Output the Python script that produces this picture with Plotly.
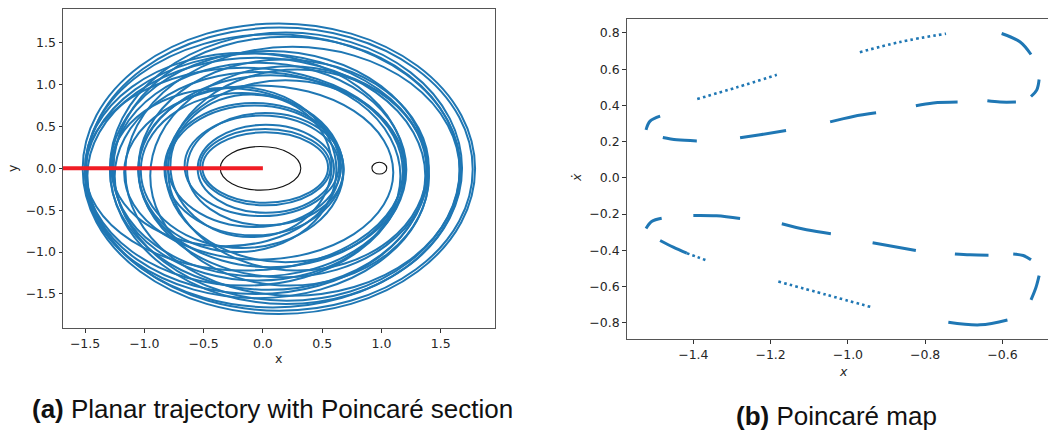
import plotly.graph_objects as go

W, H = 1048, 432
BLUE = "#1f77b4"
TICK_FONT = dict(family="DejaVu Sans", size=12.5, color="#262626")

# ---- panel (a): planar trajectory, one entry per orbital loop (bounding box in x, y)
loop_xmin = [-0.53, -0.51, -0.55, -0.66, -0.64, -0.80, -0.83, -0.78, -1.03, -1.05,
             -0.82, -1.05, -1.27, -1.25, -1.50, -1.17,
             -1.50, -1.48, -1.05, -0.80, -1.29,
             -1.52, -1.49, -1.29, -1.26, -1.16, -1.50,
             -1.28, -1.50, -0.95]
loop_xmax = [0.57, 0.55, 0.60, 0.64, 0.68, 0.66, 0.68, 0.58, 0.68, 0.62,
             1.20, 1.18, 1.21, 1.16, 1.20, 1.10,
             1.40, 1.37, 1.40, 1.38, 1.39,
             1.79, 1.77, 1.68, 1.66, 1.66, 1.67,
             0.65, 1.19, 1.40]
loop_ymin = [-0.44, -0.41, -0.53, -0.57, -0.68, -0.70, -0.80, -0.82, -0.95, -1.00,
             -1.12, -1.18, -1.29, -1.34, -1.40, -1.09,
             -1.55, -1.50, -1.30, -1.22, -1.45,
             -1.74, -1.70, -1.62, -1.58, -1.52, -1.66,
             -0.93, -1.22, -1.40]
loop_ymax = [0.47, 0.43, 0.52, 0.63, 0.66, 0.75, 0.78, 0.88, 0.90, 0.97,
             1.05, 1.11, 1.26, 1.15, 1.38, 0.99,
             1.37, 1.32, 1.30, 1.18, 1.40,
             1.73, 1.68, 1.62, 1.57, 1.45, 1.60,
             0.96, 1.20, 1.22]

# forbidden-region boundaries around the two primaries
zv_xmin = [-0.36, 0.92]
zv_xmax = [0.32, 1.045]
zv_ymin = [-0.26, -0.068]
zv_ymax = [0.26, 0.072]

# Poincaré section y = 0, x < 0
section_x = [-1.75, 0.0]
section_y = [0.0, 0.0]

# ---- panel (b): Poincaré map, islands of crossings (x, xdot); flag = sparse dots
islands = [
    ([-1.5225, -1.512, -1.486], [0.265, 0.313, 0.341], False),
    ([-1.479, -1.443, -1.391], [0.223, 0.210, 0.204], False),
    ([-1.390, -1.287, -1.184], [0.435, 0.500, 0.569], True),
    ([-1.279, -1.227, -1.160], [0.221, 0.238, 0.261], False),
    ([-1.046, -0.986, -0.927], [0.309, 0.339, 0.359], False),
    ([-0.969, -0.865, -0.746], [0.694, 0.750, 0.796], True),
    ([-0.824, -0.779, -0.716], [0.398, 0.413, 0.418], False),
    ([-0.639, -0.606, -0.565], [0.425, 0.418, 0.418], False),
    ([-0.602, -0.554, -0.526], [0.797, 0.750, 0.681], False),
    ([-0.526, -0.511, -0.505], [0.449, 0.486, 0.543], False),
    ([-1.5225, -1.508, -1.482], [-0.280, -0.241, -0.223], False),
    ([-1.400, -1.340, -1.279], [-0.208, -0.210, -0.225], False),
    ([-1.486, -1.452, -1.417], [-0.346, -0.383, -0.416], False),
    ([-1.417, -1.390, -1.365], [-0.416, -0.437, -0.457], True),
    ([-1.171, -1.107, -1.044], [-0.254, -0.287, -0.309], False),
    ([-1.180, -1.055, -0.938], [-0.573, -0.646, -0.715], True),
    ([-0.936, -0.882, -0.824], [-0.359, -0.379, -0.401], False),
    ([-0.723, -0.684, -0.636], [-0.420, -0.425, -0.427], False),
    ([-0.572, -0.546, -0.526], [-0.420, -0.429, -0.453], False),
    ([-0.526, -0.513, -0.505], [-0.674, -0.604, -0.540], False),
    ([-0.740, -0.658, -0.587], [-0.797, -0.812, -0.785], False),
]

tick_a = [-1.5, -1.0, -0.5, 0.0, 0.5, 1.0, 1.5]
tick_bx = [-1.4, -1.2, -1.0, -0.8, -0.6]
tick_by = [-0.8, -0.6, -0.4, -0.2, 0.0, 0.2, 0.4, 0.6, 0.8]

fig = go.Figure()

# red section line (panel a)
fig.add_trace(go.Scatter(x=section_x, y=section_y, mode="lines",
                         line=dict(color="#f01c24", width=4),
                         xaxis="x", yaxis="y", hoverinfo="skip"))

for xs, ys, sparse in islands:
    fig.add_trace(go.Scatter(
        x=xs, y=ys, mode="lines", xaxis="x2", yaxis="y2",
        line=dict(color=BLUE, width=2.6 if sparse else 3.0, shape="spline",
                  dash="2.6px,3.2px" if sparse else "solid"),
        hoverinfo="skip"))

shapes = []
for x0, x1, y0, y1 in zip(loop_xmin, loop_xmax, loop_ymin, loop_ymax):
    shapes.append(dict(type="circle", xref="x", yref="y", x0=x0, x1=x1, y0=y0, y1=y1,
                       line=dict(color=BLUE, width=2.0), layer="below"))
for x0, x1, y0, y1 in zip(zv_xmin, zv_xmax, zv_ymin, zv_ymax):
    shapes.append(dict(type="circle", xref="x", yref="y", x0=x0, x1=x1, y0=y0, y1=y1,
                       line=dict(color="#111111", width=1.1), layer="below"))


def px(x):
    return x / W


def py(y):
    return 1 - y / H


axis_common = dict(showgrid=False, zeroline=False, showline=True, linecolor="#555555",
                   linewidth=1, ticks="outside", ticklen=3.5, tickwidth=0.9,
                   tickcolor="#333333", tickfont=TICK_FONT, tickformat=".1f")

label_font = dict(family="DejaVu Sans", size=12.5, color="#262626")
caption_font = dict(family="Liberation Sans", size=26, color="#111111")

fig.update_layout(
    width=W, height=H, margin=dict(l=0, r=0, t=0, b=0),
    paper_bgcolor="white", plot_bgcolor="white", showlegend=False,
    shapes=shapes,
    xaxis=dict(domain=[px(63), px(495)], range=[-1.686, 1.958], tickvals=tick_a,
               anchor="y", mirror=True, **axis_common),
    yaxis=dict(domain=[py(328), py(9)], range=[-1.906, 1.902], tickvals=tick_a,
               anchor="x", mirror=True, **axis_common),
    xaxis2=dict(domain=[px(626.7), 1.0], range=[-1.5725, -0.482], tickvals=tick_bx,
                anchor="y2", mirror=True, **axis_common),
    yaxis2=dict(domain=[py(339), py(19)], range=[-0.890, 0.877], tickvals=tick_by,
                anchor="x2", mirror=False, **axis_common),
    annotations=[
        dict(text="x", x=px(278), y=py(358), font=label_font),
        dict(text="y", x=px(13), y=py(168), textangle=-90, font=label_font),
        dict(text="<i>x</i>", x=px(843), y=py(371), font=label_font),
        dict(text="<i>x\u0307</i>", x=px(577), y=py(178), textangle=-90, font=label_font),
        dict(text="<b>(a)</b> Planar trajectory with Poincaré section",
             x=px(272), y=py(409), font=caption_font),
        dict(text="<b>(b)</b> Poincaré map", x=px(836), y=py(415.5), font=caption_font),
    ],
)
fig.update_annotations(xref="paper", yref="paper", showarrow=False,
                       xanchor="center", yanchor="middle")

fig.write_html("out.html")
